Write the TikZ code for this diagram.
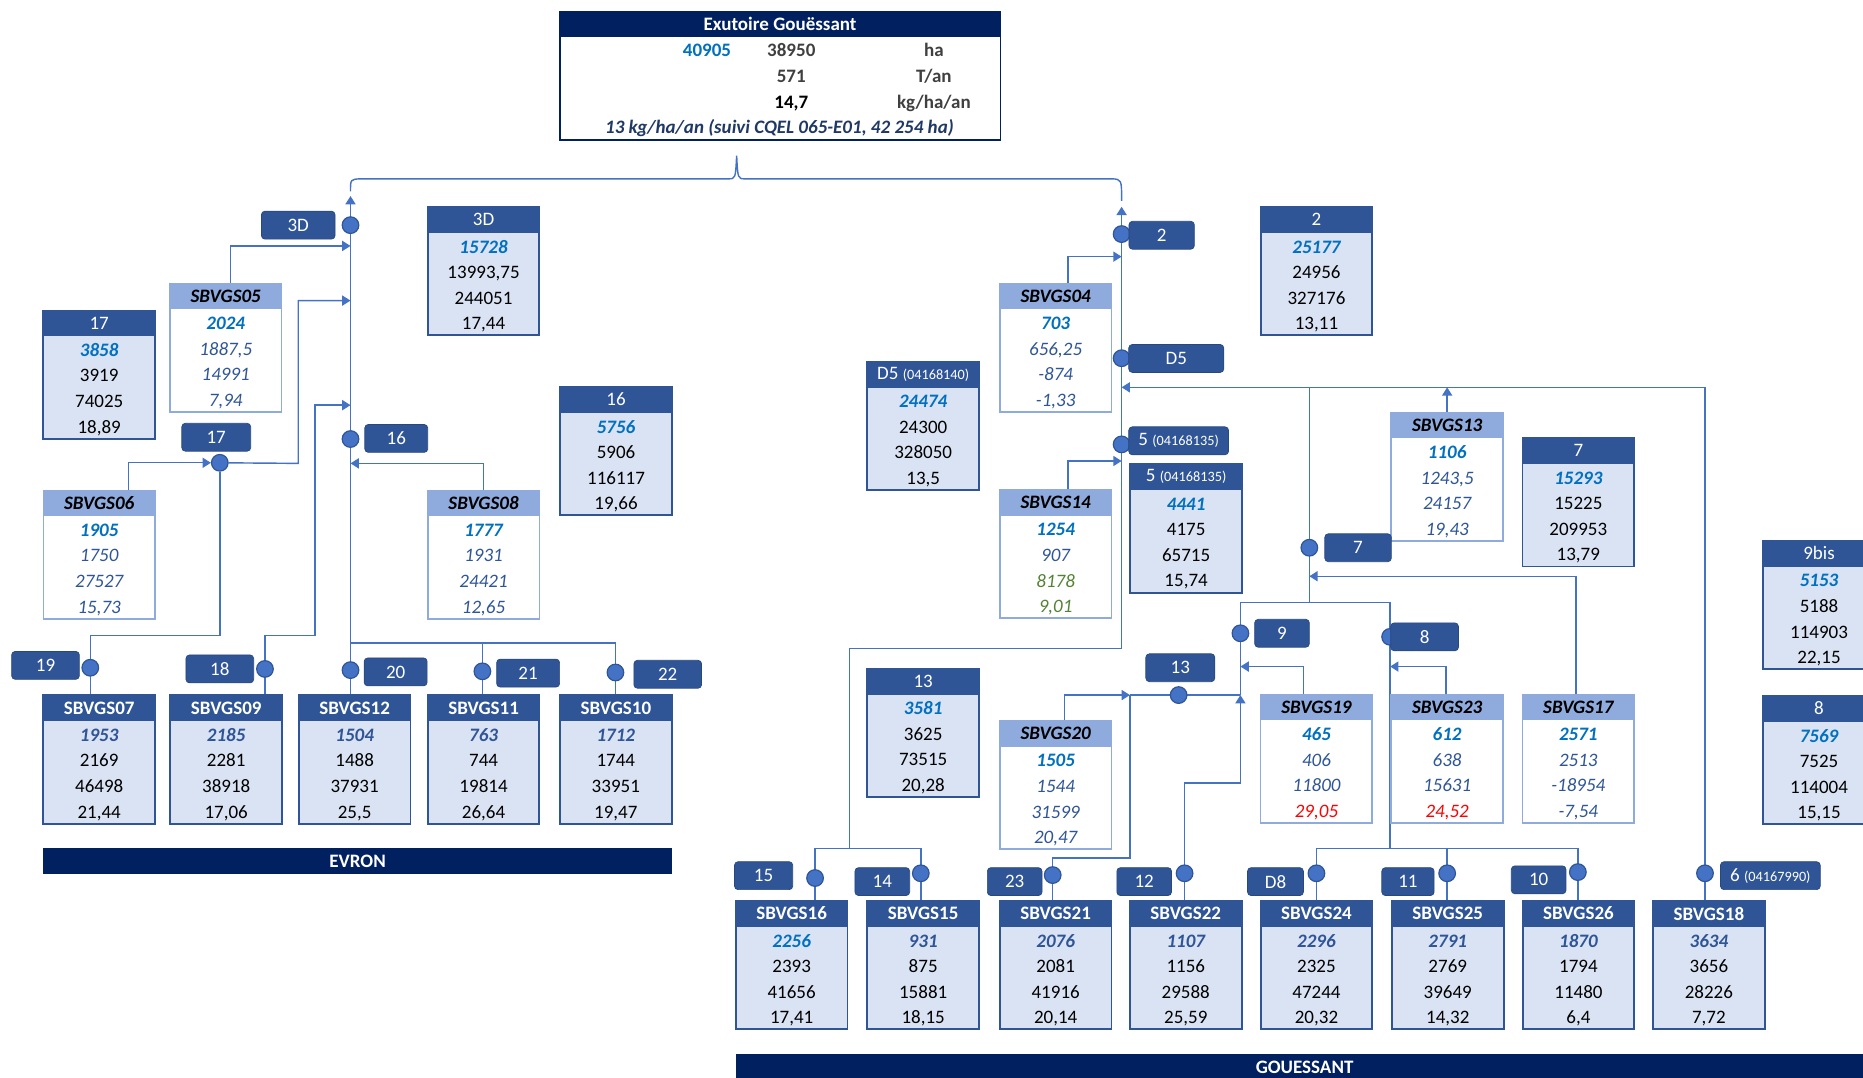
\documentclass[tikz,border=0pt]{standalone}
\usepackage{fontspec}
\setmainfont{Carlito}
\usepackage{xcolor}
\usepackage{tikz}
\usetikzlibrary{arrows.meta,positioning,backgrounds,calc}
\definecolor{hdr}{HTML}{2F5597}
\definecolor{lav}{HTML}{DAE3F3}
\definecolor{pale}{HTML}{8FAADC}
\definecolor{navy}{HTML}{002060}
\definecolor{link}{HTML}{4472C4}
\definecolor{val}{HTML}{0070C0}
\definecolor{ital}{HTML}{2F5597}
\definecolor{grn}{HTML}{548235}
\definecolor{ink}{HTML}{404040}
\definecolor{deep}{HTML}{1F3864}
\newcommand{\numfont}{\fontsize{16}{18}\selectfont}
\newcommand{\smallcode}[1]{{\fontsize{12}{14}\selectfont #1}}
\tikzset{
  every node/.style={font=\numfont},
  flow/.style={draw=link,line width=1.2pt},
  dot/.style={circle,fill=link,draw=hdr,line width=1pt,minimum size=14pt,inner sep=0pt},
  tag/.style={rounded corners=3pt,fill=hdr,draw=hdr!85!black,line width=0.6pt,text=white,minimum height=23.5pt,inner sep=0pt},
  band/.style={fill=navy,text=white,inner sep=0pt,font=\numfont\bfseries},
  num/.style={inner sep=0pt,text height=11pt,text depth=0pt},
  resbody/.style={draw=hdr,line width=1.6pt,fill=lav,minimum width=94pt,minimum height=108pt,anchor=north,inner sep=0pt},
  reshead/.style={draw=hdr,line width=1.6pt,fill=hdr,minimum width=94pt,minimum height=21pt,anchor=north,inner sep=0pt,text=white},
  resfirst/.style={num,text=val,font=\numfont\bfseries\itshape},
  resrow/.style={num,text=black},
  basbody/.style={resbody},
  bashead/.style={reshead,font=\numfont\bfseries},
  basfirst/.style={num,text=hdr,font=\numfont\bfseries\itshape},
  basrow/.style={resrow},
  sbvbody/.style={draw=pale,line width=1.4pt,fill=white,minimum width=94pt,minimum height=108pt,anchor=north,inner sep=0pt},
  sbvhead/.style={draw=pale,line width=1.4pt,fill=pale,minimum width=94pt,minimum height=21pt,anchor=north,inner sep=0pt,text=black,font=\numfont\bfseries\itshape},
  sbvfirst/.style={resfirst},
  sbvrow/.style={num,text=ital,font=\numfont\itshape},
  exo/.style={num,text=ink,font=\numfont\bfseries}
}
% kind, name, top centre, header, four values
\newcommand{\databox}[8]{%
  \node[#1body] (#2) at (#3) {};
  \node[#1head] (#2h) at (#2.north) {#4};
  \path (#2.north) ++(0,34) node[#1first] (#2a) {#5}
    ++(0,21.5) node[#1row] (#2b) {#6}
    ++(0,21.5) node[#1row] (#2c) {#7}
    ++(0,21.5) node[#1row] (#2d) {#8};
}

\begin{document}
\begin{tikzpicture}[x=1pt,y=-1pt,>={Triangle[length=7pt,width=8.5pt]}]
\useasboundingbox (0,0) rectangle (1568,907);

% outlet
\node[draw=navy,line width=1.5pt,fill=white,minimum width=371pt,minimum height=87pt,anchor=north,inner sep=0pt] (exb) at (656.5,30) {};
\node[band,minimum width=372pt,minimum height=21pt,anchor=north] (exh) at (656.5,9) {Exutoire Gouëssant};
\node[exo,text=val] (ex1) at (595,42) {40905};
\node[exo] (ex2) at (666,42) {38950};
\node[exo] (ex3) at (786,42) {ha};
\node[exo] (ex4) at (666,64) {571};
\node[exo] (ex5) at (786,64) {T/an};
\node[exo,text=black] (ex6) at (666,85.5) {14,7};
\node[exo] (ex7) at (786,85.5) {kg/ha/an};
\node[num,text=deep,font=\numfont\bfseries\itshape] (ex8) at (656,106.5) {13 kg/ha/an (suivi CQEL 065-E01, 42 254 ha)};

% Evron
\databox{res}{r17}{83.5,260.5}{17}{3858}{3919}{74025}{18,89}
\databox{sbv}{s05}{190,238}{SBVGS05}{2024}{1887,5}{14991}{7,94}
\databox{res}{r3D}{407,173.5}{3D}{15728}{13993,75}{244051}{17,44}
\databox{sbv}{s06}{83.5,412}{SBVGS06}{1905}{1750}{27527}{15,73}
\databox{sbv}{s08}{407,412}{SBVGS08}{1777}{1931}{24421}{12,65}
\databox{res}{r16}{518.5,325}{16}{5756}{5906}{116117}{19,66}
\databox{bas}{b07}{83.5,584.5}{SBVGS07}{1953}{2169}{46498}{21,44}
\databox{bas}{b09}{190.4,584.5}{SBVGS09}{2185}{2281}{38918}{17,06}
\databox{bas}{b12}{298.5,584.5}{SBVGS12}{1504}{1488}{37931}{25,5}
\databox{bas}{b11}{407,584.5}{SBVGS11}{763}{744}{19814}{26,64}
\databox{bas}{b10}{518.3,584.5}{SBVGS10}{1712}{1744}{33951}{19,47}
\node[band,minimum width=530pt,minimum height=22pt] (evron) at (301,725) {EVRON};

% Gouessant
\databox{sbv}{s04}{888.5,238}{SBVGS04}{703}{656,25}{-874}{-1,33}
\databox{res}{r2}{1108,173.5}{2}{25177}{24956}{327176}{13,11}
\databox{res}{rD5}{777,303.6}{D5 \smallcode{(04168140)}}{24474}{24300}{328050}{13,5}
\databox{sbv}{s14}{888.5,411.6}{SBVGS14}{1254}{907}{\color{grn}8178}{\color{grn}9,01}
\databox{res}{r5}{998.3,390}{5 \smallcode{(04168135)}}{4441}{4175}{65715}{15,74}
\databox{sbv}{s13}{1218,346.5}{SBVGS13}{1106}{1243,5}{24157}{19,43}
\databox{res}{r7}{1328.4,368}{7}{15293}{15225}{209953}{13,79}
\databox{res}{r9bis}{1531,454.5}{9bis}{5153}{5188}{114903}{22,15}
\databox{res}{r8}{1531,585}{8}{7569}{7525}{114004}{15,15}
\databox{res}{r13}{777,562}{13}{3581}{3625}{73515}{20,28}
\databox{sbv}{s20}{888.5,606}{SBVGS20}{1505}{1544}{31599}{20,47}
\databox{sbv}{s19}{1108,584}{SBVGS19}{465}{406}{11800}{\color{red}29,05}
\databox{sbv}{s23}{1218,584}{SBVGS23}{612}{638}{15631}{\color{red}24,52}
\databox{sbv}{s17}{1328.4,584}{SBVGS17}{2571}{2513}{-18954}{-7,54}
\databox{bas}{b16}{666.3,757.6}{SBVGS16}{\color{val}2256}{2393}{41656}{17,41}
\databox{bas}{b15}{777,757.6}{SBVGS15}{931}{875}{15881}{18,15}
\databox{bas}{b21}{888.5,757.6}{SBVGS21}{2076}{2081}{41916}{20,14}
\databox{bas}{b22}{998,757.6}{SBVGS22}{1107}{1156}{29588}{25,59}
\databox{bas}{b24}{1108,757.6}{SBVGS24}{2296}{2325}{47244}{20,32}
\databox{bas}{b25}{1218.5,757.6}{SBVGS25}{2791}{2769}{39649}{14,32}
\databox{bas}{b26}{1328.5,757.6}{SBVGS26}{1870}{1794}{11480}{6,4}
\databox{bas}{b18}{1438.3,757.6}{SBVGS18}{3634}{3656}{28226}{7,72}
\node[band,minimum width=957pt,minimum height=22pt] (gouessant) at (1098,898) {GOUESSANT};

% junction dots
\foreach \n/\x/\y in {3D/295/189.5,16/295/369.5,17/185/389.5,19/76/562,18/223/563,20/295/564,21/406/565,22/518/566,
  2/944/197,D5/944/301.5,5/944/374,7/1102/461,9/1044/533,8/1170/536,13/992/585,15/686/739,14/775/735,
  23/886/736.5,12/997/735,D8/1108/735,11/1218/735,10/1328/734,6/1435/735}
  \node[dot] (c\n) at (\x,\y) {};

% tags
\node[tag,minimum width=62pt] (t3D) at (251,189.5) {3D};
\node[tag,minimum width=58pt] (t17) at (182,368) {17};
\node[tag,minimum width=53pt] (t16) at (333.5,369) {16};
\node[tag,minimum width=57pt] (t19) at (38.3,560) {19};
\node[tag,minimum width=57pt] (t18) at (185,563) {18};
\node[tag,minimum width=53pt] (t20) at (333,565.5) {20};
\node[tag,minimum width=53pt] (t21) at (444.5,566.5) {21};
\node[tag,minimum width=57pt] (t22) at (562,567.5) {22};
\node[tag,minimum width=55pt] (t2) at (977.7,198) {2};
\node[tag,minimum width=80pt] (tD5) at (990,301.7) {D5};
\node[tag,minimum width=84pt] (t5) at (992,371) {5 \smallcode{(04168135)}};
\node[tag,minimum width=56pt] (t7) at (1143,461) {7};
\node[tag,minimum width=46pt] (t9) at (1079,533) {9};
\node[tag,minimum width=57pt] (t8) at (1199,536) {8};
\node[tag,minimum width=58pt] (t13) at (993.4,562) {13};
\node[tag,minimum width=49pt] (t15) at (642.7,737) {15};
\node[tag,minimum width=46pt] (t14) at (742.6,742) {14};
\node[tag,minimum width=46pt] (t23) at (854,742) {23};
\node[tag,minimum width=46pt] (t12) at (963,742) {12};
\node[tag,minimum width=47pt] (tD8) at (1073.5,742) {D8};
\node[tag,minimum width=44pt] (t11) at (1185,742) {11};
\node[tag,minimum width=46pt] (t10) at (1295,740.5) {10};
\node[tag,minimum width=84pt] (t6) at (1490,737) {6 \smallcode{(04167990)}};

% bends and arrival points
\coordinate (top3D) at (295,165);
\coordinate (in05) at (295,207);
\coordinate (in17) at (295,253);
\coordinate (in18) at (295,341);
\coordinate (in08) at (295,390);
\coordinate (jC) at (251,390);
\coordinate (jS) at (185,535);
\coordinate (jN) at (265,535);
\coordinate (jE) at (295,541);
\coordinate (top2) at (944,174);
\coordinate (in04) at (944,216);
\coordinate (inD5) at (944,326);
\coordinate (in14) at (944,388);
\coordinate (jG) at (944,546);
\coordinate (jG2) at (715,714);
\coordinate (a17) at (1102,485);
\coordinate (j98) at (1102,507);
\coordinate (a19) at (1044,561);
\coordinate (a23) at (1170,561);
\coordinate (j13) at (951,585);
\coordinate (j21) at (951,722);
\coordinate (j22) at (1044,659);
\coordinate (j10) at (1170,714);
\coordinate (bl) at (295,161);
\coordinate (br) at (944,169);

\begin{scope}[on background layer]
% bracket under the outlet
\draw[flow] (bl) .. controls (295,151) .. (303,150.5) -- (613,150.5)
  .. controls (619,150.5) .. (620,131) .. controls (621,150.5) .. (627,150.5)
  -- (936,150.5) .. controls (944,151) .. (br);
% Evron
\draw[flow,->] (c20 |- b12.north) -- (top3D);
\draw[flow] (c22 |- b10.north) -- (c22 |- jE) -- (jE);
\draw[flow] (c21 |- b11.north) -- (c21 |- jE);
\draw[flow,->] ([xshift=4pt]s05h.north) |- (in05);
\draw[flow,->] (c17) -- (jC) |- (in17);
\draw[flow,->] (c18 |- b09.north) |- (jN) |- (in18);
\draw[flow,->] (s08h.north) |- (in08);
\draw[flow,->] ([xshift=24.5pt]s06h.north) |- (c17);
\draw[flow] (c19 |- b07.north) |- (jS) -- (c17);
% Gouessant
\draw[flow,->] (jG) -- (top2);
\draw[flow] (jG) -- (jG2 |- jG) -- (jG2);
\draw[flow] (c15 |- b16.north) -- (c15 |- jG2) -- (c14 |- jG2) -- (c14 |- b15.north);
\draw[flow,->] ([xshift=10.5pt]s04h.north) |- (in04);
\draw[flow,->] ([xshift=10.5pt]s14h.north) |- (in14);
\draw[flow,->] (c6 |- b18.north) -- (c6 |- inD5) -- (inD5);
\draw[flow,->] (s13h.north) -- (s13h.north |- inD5);
\draw[flow] (c7 |- inD5) -- (j98);
\draw[flow,->] ([xshift=-2pt]s17h.north) |- (a17);
\draw[flow] (c9 |- c13) -- (c9 |- j98) -- (c8 |- j98) -- (j10);
\draw[flow,->] ([xshift=-11pt]s19h.north) |- (a19);
\draw[flow,->] ([xshift=-1pt]s23h.north) |- (a23);
\draw[flow] (cD8 |- b24.north) -- (cD8 |- j10) -- (c10 |- j10) -- (c10 |- b26.north);
\draw[flow] (c11 |- b25.north) -- (c11 |- j10);
\draw[flow] (j13) -- (c9 |- c13);
\draw[flow,->] ([xshift=7.5pt]s20h.north) |- (j13);
\draw[flow] (c23 |- b21.north) |- (j21) -- (j13);
\draw[flow,->] (c12 |- b22.north) |- (j22) -- (c9 |- c13);
\end{scope}
\end{tikzpicture}
\end{document}
